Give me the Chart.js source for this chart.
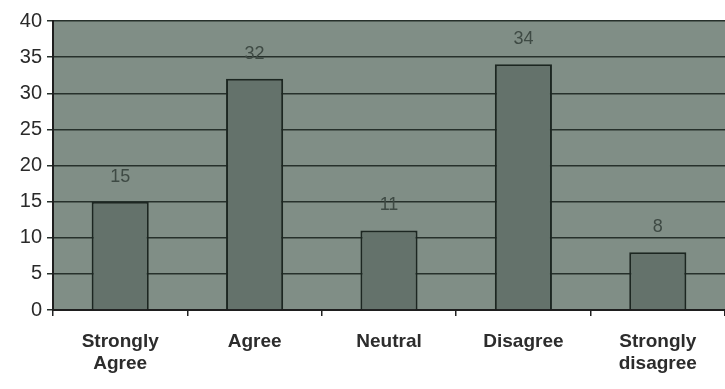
<!DOCTYPE html>
<html>
<head>
<meta charset="utf-8">
<script src="https://cdn.jsdelivr.net/npm/chart.js@4/dist/chart.umd.min.js"></script>
<style>
html,body{margin:0;padding:0;background:#fff;}
#wrap{width:725px;height:389px;position:relative;}
</style>
</head>
<body>
<div id="wrap"><canvas id="c" width="725" height="389"></canvas></div>
<script>
const categories = [["Strongly","Agree"], "Agree", "Neutral", "Disagree", ["Strongly","disagree"]];
const values = [15, 32, 11, 34, 8];
const yTicks = [0, 5, 10, 15, 20, 25, 30, 35, 40];

const bgPlugin = {
  id: 'plotBg',
  beforeDraw(chart) {
    const {ctx, chartArea: a} = chart;
    ctx.save();
    ctx.fillStyle = '#808e86';
    ctx.fillRect(a.left, a.top, a.right - a.left, a.bottom - a.top);
    ctx.restore();
  }
};

const labelPlugin = {
  id: 'valLabels',
  afterDatasetsDraw(chart) {
    const {ctx} = chart;
    const meta = chart.getDatasetMeta(0);
    ctx.save();
    ctx.font = '18px "Liberation Sans", Arial, sans-serif';
    ctx.fillStyle = '#3e4a44';
    ctx.textAlign = 'center';
    ctx.textBaseline = 'middle';
    meta.data.forEach((bar, i) => {
      ctx.fillText(String(values[i]), bar.x, bar.y - 25);
    });
    ctx.restore();
  }
};

new Chart(document.getElementById('c'), {
  type: 'bar',
  data: {
    labels: categories,
    datasets: [{
      data: values,
      backgroundColor: '#64726b',
      borderColor: '#1c2621',
      borderWidth: 2,
      borderSkipped: 'bottom',
      barPercentage: 0.85,
      categoryPercentage: 0.5
    }]
  },
  options: {
    responsive: false,
    animation: false,
    layout: {padding: {top: 21, right: 0, left: 0, bottom: 0}},
    plugins: {legend: {display: false}, tooltip: {enabled: false}},
    scales: {
      x: {
        offset: true,
        grid: {display: true, drawOnChartArea: false, drawTicks: true, tickLength: 6, color: '#222', offset: true, lineWidth: 1.5},
        border: {display: true, color: '#1e1e1e', width: 2},
        ticks: {
          color: '#2c2c2c',
          font: {family: '"Liberation Sans", Arial, sans-serif', size: 19, weight: 'bold', lineHeight: 1.2},
          padding: 14,
          maxRotation: 0,
          autoSkip: false
        },
        afterFit(scale) { scale.height = 79; }
      },
      y: {
        min: 0, max: 40,
        afterBuildTicks(scale) { scale.ticks = yTicks.map(v => ({value: v})); },
        grid: {color: '#26302b', lineWidth: 1.5, drawTicks: true, tickLength: 6},
        border: {display: true, color: '#1e1e1e', width: 2},
        ticks: {
          color: '#2a2a2a',
          font: {family: '"Liberation Sans", Arial, sans-serif', size: 20},
          padding: 5
        },
        afterFit(scale) { scale.width = 53; }
      }
    }
  },
  plugins: [bgPlugin, labelPlugin]
});
</script>
</body>
</html>
